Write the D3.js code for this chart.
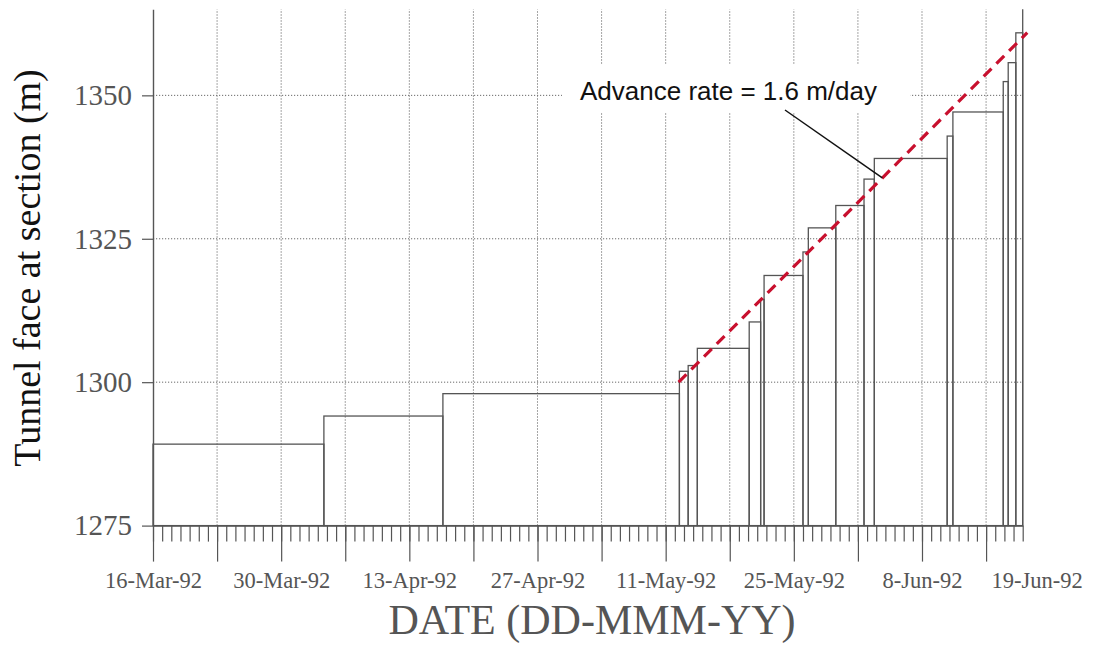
<!DOCTYPE html>
<html>
<head>
<meta charset="utf-8">
<script src="https://cdn.jsdelivr.net/npm/d3@7"></script>
<style>
  body { margin: 0; background: #ffffff; }
  svg { display: block; }
</style>
</head>
<body>
<svg id="chart" width="1093" height="646"></svg>
<script>
// Survey times at which the tunnel face was recorded (start of each step)
const surveyTimes = [
  "1992-03-16T00:00", "1992-04-03T16:00", "1992-04-16T16:00", "1992-05-12T12:00",
  "1992-05-13T11:00", "1992-05-14T11:00", "1992-05-20T03:00", "1992-05-21T09:00",
  "1992-05-21T18:00", "1992-05-26T00:00", "1992-05-26T14:00", "1992-05-29T14:00",
  "1992-06-01T16:00", "1992-06-02T19:00", "1992-06-10T18:00", "1992-06-11T09:00",
  "1992-06-16T21:00", "1992-06-17T10:00", "1992-06-18T06:00"
];
// Tunnel face chainage at the section (m) for each survey
const faceChainage = [
  1289.2, 1294.1, 1298.0, 1301.9,
  1302.9, 1305.9, 1310.5, 1314.4,
  1318.6, 1322.7, 1326.9, 1330.8,
  1335.4, 1339.0, 1342.9, 1347.1,
  1352.4, 1355.7, 1360.9
];
const periodStart = "1992-03-16T00:00";
const periodEnd = "1992-06-19T00:00";
const chainageDomain = [1275, 1365];
const chainageTicks = [1275, 1300, 1325, 1350];
const dateLabels = ["1992-03-16", "1992-03-30", "1992-04-13", "1992-04-27",
                    "1992-05-11", "1992-05-25", "1992-06-08", "1992-06-19"];

// Advance-rate trend line
const advanceRate = 1.6;              // m/day
const trendTimes = ["1992-05-12T10:00", "1992-06-19T12:00"];
const trendStartChainage = 1300;
const calloutTime = "1992-06-03T16:00";
const calloutText = "Advance rate = 1.6 m/day";

const parseTime = d3.timeParse("%Y-%m-%dT%H:%M");
const parseDay = d3.timeParse("%Y-%m-%d");
const fmtLabel = d3.timeFormat("%-d-%b-%y");

const svg = d3.select("#chart");
const serif = "'Liberation Serif', 'Times New Roman', Times, serif";
const sans = "'Liberation Sans', Arial, Helvetica, sans-serif";

const t0 = parseTime(periodStart), t1 = parseTime(periodEnd);
const x = d3.scaleTime().domain([t0, t1]).range([153, 1022.7]);
const y = d3.scaleLinear().domain(chainageDomain).range([525.6, 9.3]);

const days = d3.timeDay.range(t0, d3.timeDay.offset(t1, 1));
const weeks = d3.timeMonday.range(t0, d3.timeDay.offset(t1, 1));

// dotted grid
const grid = svg.append("g")
  .attr("stroke", "#6a6a6a").attr("stroke-width", 1)
  .attr("stroke-dasharray", "1.2,1.8").attr("fill", "none");
grid.selectAll("line.v").data(weeks.slice(1)).join("line")
  .attr("class", "v")
  .attr("x1", d => x(d)).attr("x2", d => x(d))
  .attr("y1", y(chainageDomain[0])).attr("y2", y(chainageDomain[1]));
grid.selectAll("line.h").data(chainageTicks.slice(1)).join("line")
  .attr("class", "h")
  .attr("x1", x(t0)).attr("x2", x(t1))
  .attr("y1", d => y(d)).attr("y2", d => y(d));

// step outlines of face position
const steps = surveyTimes.map((s, i) => ({
  start: parseTime(s),
  end: i + 1 < surveyTimes.length ? parseTime(surveyTimes[i + 1]) : t1,
  value: faceChainage[i]
}));
svg.append("g")
  .attr("fill", "none").attr("stroke", "#555").attr("stroke-width", 1.3)
  .selectAll("rect").data(steps).join("rect")
  .attr("x", d => x(d.start))
  .attr("width", d => x(d.end) - x(d.start))
  .attr("y", d => y(d.value))
  .attr("height", d => y(chainageDomain[0]) - y(d.value));

// right frame edge
svg.append("line")
  .attr("x1", x(t1)).attr("x2", x(t1))
  .attr("y1", y(chainageDomain[0])).attr("y2", y(chainageDomain[1]))
  .attr("stroke", "#555").attr("stroke-width", 1.3);

// x axis: daily minor ticks, weekly major ticks, labels
const xg = svg.append("g").attr("transform", `translate(0,${y(chainageDomain[0])})`);
xg.append("g")
  .call(d3.axisBottom(x).tickValues(days).tickSize(16).tickSizeOuter(0).tickFormat(""))
  .call(g => g.selectAll("line").attr("stroke", "#555").attr("stroke-width", 1.2))
  .call(g => g.select(".domain").attr("stroke", "#555").attr("stroke-width", 1.4));
xg.append("g")
  .call(d3.axisBottom(x).tickValues(weeks).tickSize(36).tickFormat(""))
  .call(g => g.select(".domain").remove())
  .call(g => g.selectAll("line").attr("stroke", "#555").attr("stroke-width", 1.2));
xg.append("g")
  .call(d3.axisBottom(x).tickValues(dateLabels.map(parseDay)).tickSize(0).tickFormat(fmtLabel))
  .call(g => g.select(".domain").remove())
  .call(g => g.selectAll("text")
    .attr("y", 62).attr("dy", 0)
    .attr("dx", (d, i, n) => i === n.length - 1 ? 14 : 0)
    .attr("fill", "#555")
    .style("font-family", serif).style("font-size", "22.5px"));

// y axis
svg.append("g")
  .attr("transform", `translate(${x(t0)},0)`)
  .call(d3.axisLeft(y).tickValues(chainageTicks).tickSize(11).tickSizeOuter(0).tickPadding(10).tickFormat(d3.format("d")))
  .call(g => g.select(".domain").attr("stroke", "#555").attr("stroke-width", 1.4))
  .call(g => g.selectAll("line").attr("stroke", "#555").attr("stroke-width", 1.2))
  .call(g => g.selectAll("text")
    .attr("fill", "#555")
    .style("font-family", serif).style("font-size", "29px"));

// axis titles
svg.append("text")
  .attr("transform", "translate(40,268) rotate(-90)")
  .attr("text-anchor", "middle")
  .attr("fill", "#111")
  .style("font-family", serif).style("font-size", "38px")
  .text("Tunnel face at section (m)");
svg.append("text")
  .attr("x", 592).attr("y", 634)
  .attr("text-anchor", "middle")
  .attr("fill", "#555")
  .style("font-family", serif).style("font-size", "42px")
  .text("DATE (DD-MMM-YY)");

// advance-rate trend line
const trendAt = t => trendStartChainage + advanceRate * (t - parseTime(trendTimes[0])) / 864e5;
const trendPts = trendTimes.map(parseTime).map(t => [x(t), y(trendAt(t))]);
svg.append("path")
  .attr("d", d3.line()(trendPts))
  .attr("fill", "none").attr("stroke", "#c8102e")
  .attr("stroke-width", 3.2).attr("stroke-dasharray", "11,7");

// callout box, text and leader
svg.append("rect")
  .attr("x", 562).attr("y", 64).attr("width", 348).attr("height", 49)
  .attr("fill", "#fff");
svg.append("text")
  .attr("x", 580).attr("y", 99.5)
  .attr("fill", "#111")
  .style("font-family", sans).style("font-size", "26px")
  .text(calloutText);
const ct = parseTime(calloutTime);
svg.append("line")
  .attr("x1", 785).attr("y1", 110)
  .attr("x2", x(ct)).attr("y2", y(trendAt(ct)))
  .attr("stroke", "#111").attr("stroke-width", 1.5);
</script>
</body>
</html>
